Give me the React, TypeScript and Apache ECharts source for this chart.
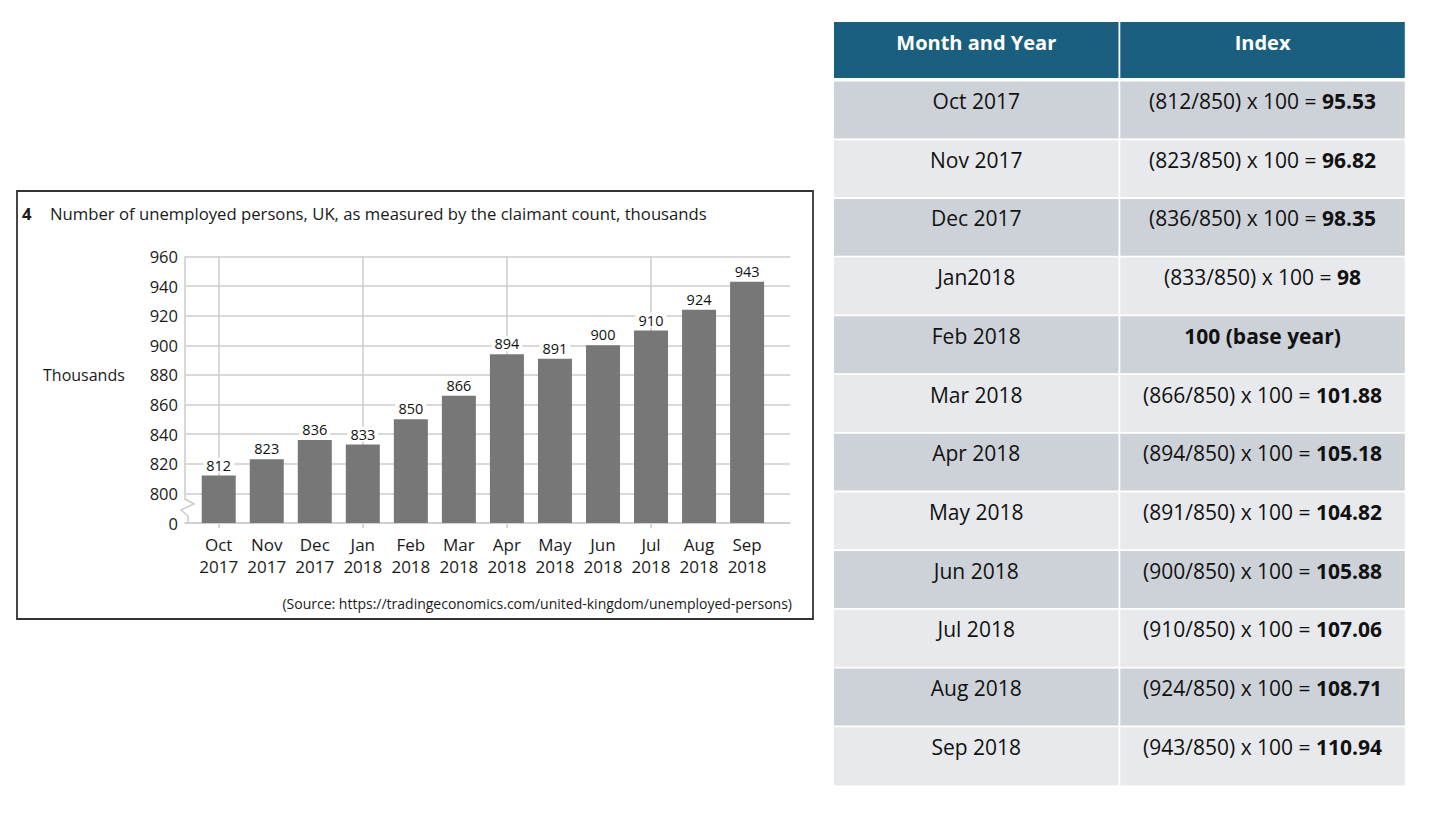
import React, { useEffect, useRef } from "react";
import * as echarts from "echarts";

// ---------- data ----------
const categories = [
  "Oct\n2017", "Nov\n2017", "Dec\n2017", "Jan\n2018", "Feb\n2018", "Mar\n2018",
  "Apr\n2018", "May\n2018", "Jun\n2018", "Jul\n2018", "Aug\n2018", "Sep\n2018",
];
const unemployed = [812, 823, 836, 833, 850, 866, 894, 891, 900, 910, 924, 943];
const Y_MIN = 780; // shown as "0" (broken axis)
const Y_MAX = 960;
const Y_STEP = 20;

const tableHeaders = ["Month and Year", "Index"];
const tableMonths = [
  "Oct 2017", "Nov 2017", "Dec 2017", "Jan2018", "Feb 2018", "Mar 2018",
  "Apr 2018", "May 2018", "Jun 2018", "Jul 2018", "Aug 2018", "Sep 2018",
];
const indexResults = [
  "95.53", "96.82", "98.35", "98", "100 (base year)", "101.88",
  "105.18", "104.82", "105.88", "107.06", "108.71", "110.94",
];
const BASE_VALUE = 850;
const BASE_ROW = 4;

const titleNumber = "4";
const titleText = "Number of unemployed persons, UK, as measured by the claimant count, thousands";
const yAxisTitle = "Thousands";
const sourceText = "(Source: https://tradingeconomics.com/united-kingdom/unemployed-persons)";

// ---------- layout ----------
const W = 1445;
const H = 814;
const FONT = "'Open Sans', 'Noto Sans', sans-serif";
const GRID_TOP = 256.5;
const GRID_BOTTOM_Y = 523;
const BAR_LEFT = 194.7;
const BAR_RIGHT = 771.1;
const LINES_LEFT = 185;
const LINES_RIGHT = 790;
const GRID_COLOR = "#cccccc";
const TEXT_COLOR = "#1a1a1a";

const TABLE_X = 834;
const COL_W = 284.5;
const COL_GAP = 1.8;
const HEAD_Y = 22;
const HEAD_H = 56;
const ROW_Y0 = 81.5;
const ROW_PITCH = 58.7;
const ROW_H = 56.9;

function buildTable(): any[] {
  const els: any[] = [];
  const colX = [TABLE_X, TABLE_X + COL_W + COL_GAP];
  tableHeaders.forEach((h, c) => {
    els.push({
      type: "rect",
      shape: { x: colX[c], y: HEAD_Y, width: COL_W, height: HEAD_H },
      style: { fill: "#1a5f7f" },
      silent: true,
    });
    els.push({
      type: "text",
      x: colX[c] + COL_W / 2,
      y: HEAD_Y + 20,
      style: {
        text: h,
        fill: "#ffffff",
        font: `bold 20px ${FONT}`,
        align: "center",
        verticalAlign: "middle",
      },
      silent: true,
    });
  });
  tableMonths.forEach((m, i) => {
    const y = ROW_Y0 + i * ROW_PITCH;
    const h = i === tableMonths.length - 1 ? ROW_H + 1.5 : ROW_H;
    const fill = i % 2 === 0 ? "#cdd1d8" : "#e7e9ec";
    colX.forEach((x) => {
      els.push({
        type: "rect",
        shape: { x, y, width: COL_W, height: h },
        style: { fill },
        silent: true,
      });
    });
    els.push({
      type: "text",
      x: colX[0] + COL_W / 2,
      y: y + 19.5,
      style: {
        text: m,
        fill: "#111111",
        font: `21px ${FONT}`,
        align: "center",
        verticalAlign: "middle",
      },
      silent: true,
    });
    const txt =
      i === BASE_ROW
        ? `{b|${indexResults[i]}}`
        : `{n|(${unemployed[i]}/${BASE_VALUE}) x 100 = }{b|${indexResults[i]}}`;
    els.push({
      type: "text",
      x: colX[1] + COL_W / 2,
      y: y + 19.5,
      style: {
        text: txt,
        align: "center",
        verticalAlign: "middle",
        rich: {
          n: { fontFamily: FONT, fontSize: 21, fill: "#111111", color: "#111111" },
          b: { fontFamily: FONT, fontSize: 21, fontWeight: "bold", fill: "#111111", color: "#111111" },
        },
      },
      silent: true,
    });
  });
  return els;
}

export default function App() {
  const ref = useRef<HTMLDivElement>(null);
  useEffect(() => {
    if (!ref.current) return;
    const chart = echarts.init(ref.current, undefined, { renderer: "svg" });
    const markIdx = categories.map((_, i) => i).filter((i) => i % 3 === 0);
    const option: any = {
      animation: false,
      backgroundColor: "#ffffff",
      grid: [
        { left: BAR_LEFT, right: W - BAR_RIGHT, top: GRID_TOP, bottom: H - GRID_BOTTOM_Y, containLabel: false },
        { left: LINES_LEFT, right: W - LINES_RIGHT, top: GRID_TOP, bottom: H - GRID_BOTTOM_Y, containLabel: false },
      ],
      xAxis: [
        {
          type: "category",
          gridIndex: 0,
          data: categories,
          axisLine: { show: false },
          axisTick: {
            show: true,
            alignWithLabel: true,
            interval: (i: number) => i % 3 === 0,
            length: 5,
            lineStyle: { color: GRID_COLOR, width: 1.5 },
          },
          axisLabel: {
            interval: 0,
            fontFamily: FONT,
            fontSize: 17,
            lineHeight: 21.5,
            margin: 11,
            color: TEXT_COLOR,
          },
          splitLine: { show: false },
        },
        {
          type: "value",
          gridIndex: 1,
          min: 0,
          max: 1,
          axisLine: { show: true, onZero: false, lineStyle: { color: GRID_COLOR, width: 1.5 } },
          axisTick: { show: false },
          axisLabel: { show: false },
          splitLine: { show: false },
        },
      ],
      yAxis: [
        {
          type: "value",
          gridIndex: 0,
          min: Y_MIN,
          max: Y_MAX,
          interval: Y_STEP,
          show: false,
        },
        {
          type: "value",
          gridIndex: 1,
          min: Y_MIN,
          max: Y_MAX,
          interval: Y_STEP,
          axisLine: { show: false },
          axisTick: { show: false },
          axisLabel: {
            fontFamily: FONT,
            fontSize: 16.5,
            color: TEXT_COLOR,
            margin: 7,
            formatter: (v: number) => (v === Y_MIN ? "0" : String(v)),
          },
          splitLine: { show: true, lineStyle: { color: GRID_COLOR, width: 1.5 } },
        },
      ],
      series: [
        {
          type: "bar",
          xAxisIndex: 0,
          yAxisIndex: 0,
          data: unemployed,
          barWidth: 34,
          z: 3,
          itemStyle: { color: "#777777" },
          label: {
            show: true,
            position: "top",
            distance: 3,
            fontFamily: FONT,
            fontSize: 14.5,
            color: "#111111",
            backgroundColor: "#ffffff",
            padding: [0, 3, 0, 3],
          },
          markLine: {
            silent: true,
            z: 1,
            symbol: "none",
            label: { show: false },
            lineStyle: { color: GRID_COLOR, width: 1.5, type: "solid" },
            data: markIdx.map((i) => ({ xAxis: i })),
          },
        },
      ],
      graphic: [
        {
          type: "rect",
          shape: { x: 17, y: 191, width: 796, height: 428 },
          style: { fill: "none", stroke: "#333333", lineWidth: 1.8 },
          silent: true,
        },
        {
          type: "polyline",
          shape: {
            points: [
              [LINES_LEFT, GRID_TOP],
              [LINES_LEFT, 499],
              [194, 504],
              [181, 510],
              [188, 516],
              [188, GRID_BOTTOM_Y],
            ],
          },
          style: { stroke: GRID_COLOR, lineWidth: 1.5, fill: "none" },
          silent: true,
        },
        {
          type: "text",
          x: 22,
          y: 213,
          style: { text: titleNumber, font: `bold 16.7px ${FONT}`, fill: TEXT_COLOR, verticalAlign: "middle" },
          silent: true,
        },
        {
          type: "text",
          x: 50,
          y: 213,
          style: { text: titleText, font: `16.7px ${FONT}`, fill: TEXT_COLOR, verticalAlign: "middle" },
          silent: true,
        },
        {
          type: "text",
          x: 43,
          y: 375,
          style: { text: yAxisTitle, font: `16px ${FONT}`, fill: TEXT_COLOR, verticalAlign: "middle" },
          silent: true,
        },
        {
          type: "text",
          x: 792,
          y: 603,
          style: { text: sourceText, font: `14px ${FONT}`, fill: TEXT_COLOR, align: "right", verticalAlign: "middle" },
          silent: true,
        },
        ...buildTable(),
      ],
    };
    chart.setOption(option);
    return () => chart.dispose();
  }, []);
  return (
    <div
      ref={ref}
      style={{ position: "absolute", left: 0, top: 0, width: W, height: H }}
    />
  );
}
